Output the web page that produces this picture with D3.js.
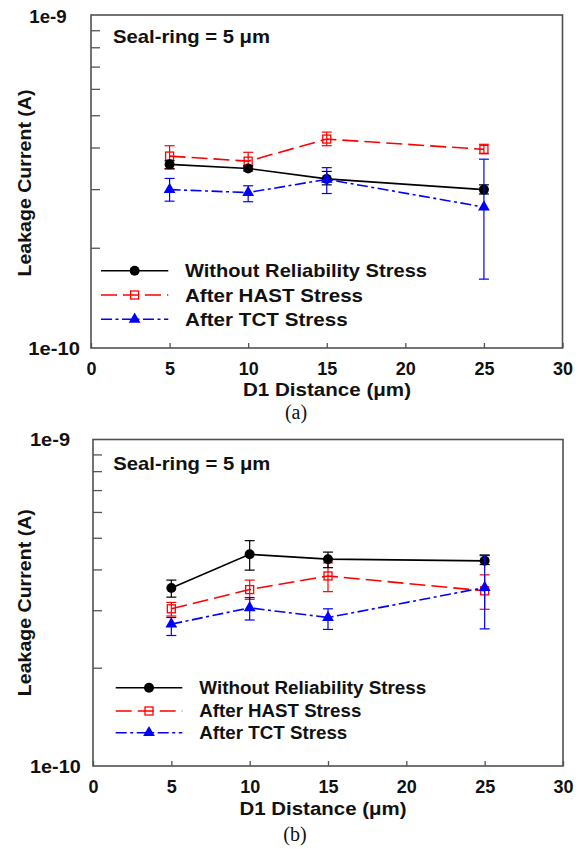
<!DOCTYPE html>
<html><head><meta charset="utf-8">
<script src="https://cdn.jsdelivr.net/npm/d3@7"></script>
<style>
body{margin:0;background:#fff}
svg{display:block}
text{font-family:"Liberation Sans",Arial,sans-serif;font-weight:bold;fill:#111}
</style>
</head><body>
<svg id="chart" width="585" height="849"></svg>
<script>
// ---------- data ----------
const distances = [5, 10, 15, 25];
const seriesNames = ["Without Reliability Stress", "After HAST Stress", "After TCT Stress"];
const xTicks = [0, 5, 10, 15, 20, 25, 30];
const yMinorTicks = [2e-10, 3e-10, 4e-10, 5e-10, 6e-10, 7e-10, 8e-10, 9e-10];
const yTickLabels = ["1e-9", "1e-10"];
const annotation = "Seal-ring = 5 \u03bcm";
const xTitle = "D1 Distance (\u03bcm)";
const yTitle = "Leakage Current (A)";
const panelLabels = ["(a)", "(b)"];

// panel (a)
const aWithout   = [3.56e-10, 3.46e-10, 3.22e-10, 2.99e-10];
const aWithoutLo = [3.45e-10, 3.40e-10, 3.09e-10, 2.90e-10];
const aWithoutHi = [3.65e-10, 3.53e-10, 3.39e-10, 3.09e-10];
const aHast      = [3.77e-10, 3.64e-10, 4.24e-10, 3.95e-10];
const aHastLo    = [3.46e-10, 3.50e-10, 4.05e-10, 3.83e-10];
const aHastHi    = [4.05e-10, 3.87e-10, 4.45e-10, 4.09e-10];
const aTct       = [2.99e-10, 2.93e-10, 3.21e-10, 2.65e-10];
const aTctLo     = [2.76e-10, 2.75e-10, 2.91e-10, 1.61e-10];
const aTctHi     = [3.23e-10, 3.07e-10, 3.48e-10, 3.69e-10];

// panel (b)
const bWithout   = [3.51e-10, 4.45e-10, 4.30e-10, 4.25e-10];
const bWithoutLo = [3.29e-10, 3.98e-10, 4.05e-10, 4.14e-10];
const bWithoutHi = [3.71e-10, 4.90e-10, 4.52e-10, 4.43e-10];
const bHast      = [3.03e-10, 3.47e-10, 3.82e-10, 3.44e-10];
const bHastLo    = [2.88e-10, 3.24e-10, 3.42e-10, 3.02e-10];
const bHastHi    = [3.17e-10, 3.71e-10, 4.19e-10, 3.85e-10];
const bTct       = [2.72e-10, 3.05e-10, 2.85e-10, 3.52e-10];
const bTctLo     = [2.51e-10, 2.80e-10, 2.62e-10, 2.63e-10];
const bTctHi     = [2.85e-10, 3.28e-10, 3.03e-10, 4.41e-10];

// ---------- styles ----------
const styles = [
  {color: "#000000", dash: null, marker: "circle"},
  {color: "#ff0000", dash: "16,6", marker: "square"},
  {color: "#0000ff", dash: "11,3.5,3,3.5", marker: "triangle"}
];
const drawOrder = [1, 0, 2];

const svg = d3.select("#chart");

function txt(g, s, x, y, opt) {
  const t = g.append("text").attr("x", x).attr("y", y).text(s)
    .style("font-size", (opt.size || 18) + "px");
  if (opt.anchor) t.attr("text-anchor", opt.anchor);
  if (opt.width) t.attr("textLength", opt.width).attr("lengthAdjust", "spacingAndGlyphs");
  if (opt.transform) t.attr("transform", opt.transform);
  if (opt.family) t.style("font-family", opt.family);
  if (opt.weight) t.style("font-weight", opt.weight);
  return t;
}

function marker(g, type, color, cx, cy) {
  if (type === "circle") {
    g.append("circle").attr("cx", cx).attr("cy", cy).attr("r", 5).attr("fill", color);
  } else if (type === "square") {
    g.append("rect").attr("x", cx - 4).attr("y", cy - 4).attr("width", 8).attr("height", 8)
      .attr("fill", "none").attr("stroke", color).attr("stroke-width", 1.3);
  } else {
    g.append("path").attr("d", d3.symbol(d3.symbolTriangle, 60)())
      .attr("transform", `translate(${cx},${cy})`).attr("fill", color);
  }
}

function drawPanel(p) {
  const g = svg.append("g");
  const x = d3.scaleLinear().domain([0, 30]).range([p.left, p.right]);
  const y = d3.scaleLog().domain([1e-10, 1e-9]).range([p.bottom, p.top]);

  // x axis
  const xa = g.append("g").attr("transform", `translate(0,${p.bottom})`)
    .call(d3.axisBottom(x).tickValues(xTicks).tickSizeInner(-5).tickSizeOuter(0).tickPadding(14.5));
  xa.select(".domain").remove();
  xa.selectAll(".tick line").attr("stroke", "#555").attr("stroke-width", 1.3);
  xa.selectAll(".tick text").style("font-size", "18px").style("font-family", "'Liberation Sans',Arial,sans-serif")
    .style("font-weight", "bold").attr("fill", "#111");

  // y axis minor ticks
  const ya = g.append("g").attr("transform", `translate(${p.left},0)`)
    .call(d3.axisLeft(y).tickValues(yMinorTicks).tickSizeInner(-9).tickSizeOuter(0).tickFormat(""));
  ya.select(".domain").remove();
  ya.selectAll(".tick line").attr("stroke", "#555").attr("stroke-width", 1.3);

  // frame
  g.append("rect").attr("x", p.left).attr("y", p.top)
    .attr("width", p.right - p.left).attr("height", p.bottom - p.top)
    .attr("fill", "none").attr("stroke", "#505050").attr("stroke-width", 1.6);

  // y tick labels
  txt(g, yTickLabels[0], p.y9.x, p.y9.y, {size: 19, width: p.y9.w});
  txt(g, yTickLabels[1], p.y10.x, p.y10.y, {size: 19, width: p.y10.w});

  // titles
  txt(g, xTitle, p.xt.x, p.xt.y, {size: 18, anchor: "middle", width: p.xt.w});
  txt(g, yTitle, 0, 0, {size: 19, anchor: "middle", width: p.yt.w,
    transform: `translate(${p.yt.x},${p.yt.y}) rotate(-90)`});
  txt(g, annotation, p.ann.x, p.ann.y, {size: 19, width: p.ann.w});
  txt(g, p.label, p.lab.x, p.lab.y, {size: 20, anchor: "middle", family: "'Liberation Serif','Times New Roman',serif", weight: "normal"});

  // series
  const line = d3.line().x(d => x(d[0])).y(d => y(d[1]));
  drawOrder.forEach(si => {
    const st = styles[si];
    const s = p.series[si];
    const sg = g.append("g");
    const pts = distances.map((d, i) => [d, s.v[i]]);
    sg.append("path").attr("d", line(pts)).attr("fill", "none").attr("stroke", st.color)
      .attr("stroke-width", 1.6).attr("stroke-dasharray", st.dash);
    distances.forEach((d, i) => {
      const cx = x(d);
      sg.append("line").attr("x1", cx).attr("x2", cx).attr("y1", y(s.lo[i])).attr("y2", y(s.hi[i]))
        .attr("stroke", st.color).attr("stroke-width", 1.2);
      [s.lo[i], s.hi[i]].forEach(v => {
        sg.append("line").attr("x1", cx - 5).attr("x2", cx + 5).attr("y1", y(v)).attr("y2", y(v))
          .attr("stroke", st.color).attr("stroke-width", 1.2);
      });
      marker(sg, st.marker, st.color, cx, y(s.v[i]));
    });
  });

  // legend
  seriesNames.forEach((name, i) => {
    const st = styles[i];
    const cy = p.leg.rows[i];
    g.append("line").attr("x1", p.leg.x0).attr("x2", p.leg.x1).attr("y1", cy).attr("y2", cy)
      .attr("stroke", st.color).attr("stroke-width", 1.6).attr("stroke-dasharray", st.dash);
    marker(g, st.marker, st.color, (p.leg.x0 + p.leg.x1) / 2, cy);
    txt(g, name, p.leg.tx, cy + p.leg.off, {size: p.leg.size, width: p.leg.widths[i]});
  });
}

drawPanel({
  left: 91, right: 562.5, top: 15, bottom: 348, label: panelLabels[0],
  series: [
    {v: aWithout, lo: aWithoutLo, hi: aWithoutHi},
    {v: aHast, lo: aHastLo, hi: aHastHi},
    {v: aTct, lo: aTctLo, hi: aTctHi}
  ],
  y9: {x: 29.3, y: 22.7, w: 37.4}, y10: {x: 28.3, y: 355, w: 51.7},
  xt: {x: 327, y: 396, w: 168}, yt: {x: 30.5, y: 183, w: 187},
  ann: {x: 113, y: 43.3, w: 157}, lab: {x: 296, y: 419},
  leg: {x0: 101, x1: 168.3, tx: 185, rows: [270.7, 295, 319.3], off: 6.5, size: 18.5, widths: [242, 178, 162.7]}
});

drawPanel({
  left: 93, right: 563, top: 439.5, bottom: 766, label: panelLabels[1],
  series: [
    {v: bWithout, lo: bWithoutLo, hi: bWithoutHi},
    {v: bHast, lo: bHastLo, hi: bHastHi},
    {v: bTct, lo: bTctLo, hi: bTctHi}
  ],
  y9: {x: 30, y: 446, w: 40}, y10: {x: 30, y: 773.3, w: 50.7},
  xt: {x: 323, y: 814.5, w: 167}, yt: {x: 30.5, y: 602.7, w: 187},
  ann: {x: 113.3, y: 470, w: 157}, lab: {x: 295, y: 841},
  leg: {x0: 115.7, x1: 182.3, tx: 199.3, rows: [687.7, 711, 732.7], off: 6.3, size: 17.5, widths: [227, 162, 148]}
});
</script>
</body></html>
